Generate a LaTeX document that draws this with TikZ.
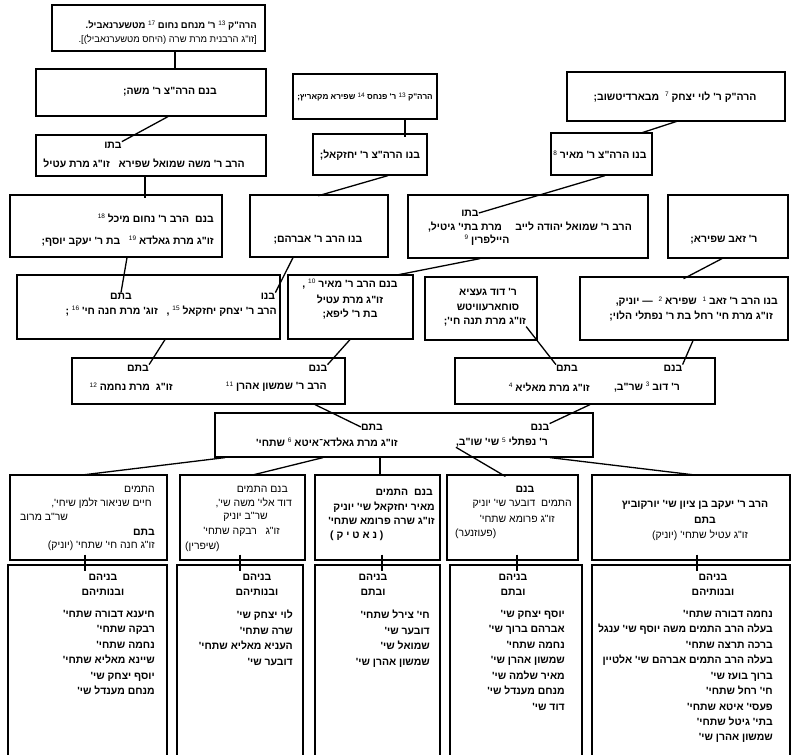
\documentclass[tikz,border=0pt]{standalone}
\usepackage{fontspec}
\TeXXeTstate=1
\newfontfamily\heb[Script=Hebrew]{Liberation Sans}
\usetikzlibrary{fit}
\newcommand\R[1]{\beginR #1\endR}
\newcommand\fn[1]{\raisebox{.6ex}{\fontsize{6.5}{7}\selectfont\mdseries #1}}
\tikzset{
  bx/.style={draw, line width=1.2bp, inner sep=0pt, fit={#1}},
  ln/.style={line width=1.3bp},
  tb/.style={inner sep=0pt, font=\heb\bfseries\fontsize{10.5}{15.5}\selectfont},
  tn/.style={inner sep=0pt, font=\heb\fontsize{10.5}{14.5}\selectfont},
  tsb/.style={inner sep=0pt, font=\heb\bfseries\fontsize{9.5}{12}\selectfont},
  tsn/.style={inner sep=0pt, font=\heb\fontsize{9.5}{12}\selectfont},
  txb/.style={inner sep=0pt, font=\heb\bfseries\fontsize{8.2}{10}\selectfont},
}
\begin{document}
\begin{tikzpicture}[x=1bp, y=-1bp]
\useasboundingbox (0,0) rectangle (795,755);
% boxes
\node[bx={(52,5) (265,51)}] (A) {};
\node[bx={(36,69) (266,116)}] (B) {};
\node[bx={(293,74) (437,119)}] (C) {};
\node[bx={(567,72) (785,121)}] (D) {};
\node[bx={(313,134) (427,175)}] (E) {};
\node[bx={(551,133) (652,175)}] (F) {};
\node[bx={(36,135) (266,176)}] (G) {};
\node[bx={(10,195) (222,257)}] (H) {};
\node[bx={(250,195) (388,257)}] (I) {};
\node[bx={(408,195) (648,258)}] (J) {};
\node[bx={(668,195) (788,258)}] (K) {};
\node[bx={(17,275) (280,339)}] (L) {};
\node[bx={(288,275) (413,339)}] (M) {};
\node[bx={(425,277) (537,340)}] (N) {};
\node[bx={(580,277) (788,340)}] (O) {};
\node[bx={(72,358) (345,404)}] (P) {};
\node[bx={(455,358) (715,404)}] (Q) {};
\node[bx={(215,413) (593,457)}] (R) {};
\node[bx={(10,475) (167,560)}] (S1) {};
\node[bx={(180,475) (305,560)}] (S2) {};
\node[bx={(315,475) (440,560)}] (S3) {};
\node[bx={(447,475) (578,560)}] (S4) {};
\node[bx={(592,475) (790,560)}] (S5) {};
\node[bx={(8,565) (167,765)}] (T1) {};
\node[bx={(177,565) (303,765)}] (T2) {};
\node[bx={(315,565) (440,765)}] (T3) {};
\node[bx={(450,565) (582,765)}] (T4) {};
\node[bx={(592,565) (790,765)}] (T5) {};
% texts
\node[tsb, anchor=east] (A1) at (257,26) {\R{הרה"ק \fn{13} ר' מנחם נחום \fn{17} מטשערנאביל.}};
\node[tsn, anchor=east] (A2) at (257,40) {\R{[זו"ג הרבנית מרת שרה (היחס מטשערנאביל)].}};
\node[tb] (B1) at (170,92) {\R{בנם הרה"צ ר' משה;}};
\node[txb] (C1) at (365,97) {\R{הרה"ק \fn{13} ר' פנחס \fn{14} שפירא מקאריץ;}};
\node[tb] (D1) at (675,97) {\R{הרה"ק ר' לוי יצחק \fn{7} \ מבארדיטשוב;}};
\node[tb] (E1) at (370,155) {\R{בנו הרה"צ ר' יחזקאל;}};
\node[tb] (F1) at (600,155) {\R{בנו הרה"צ ר' מאיר \fn{8}}};
\node[tb] (G1) at (113,145) {\R{בתו}};
\node[tb, anchor=east] (G2) at (245,163) {\R{הרב ר' משה שמואל שפירא \ \ זו"ג מרת עטיל}};
\node[tb, anchor=east] (H1) at (214,218) {\R{בנם \ הרב ר' נחום מיכל \fn{18}}};
\node[tb, anchor=east] (H2) at (214,241) {\R{זו"ג מרת גאלדא \fn{19} \ \ בת ר' יעקב יוסף;}};
\node[tb] (I1) at (318,240) {\R{בנו הרב ר' אברהם;}};
\node[tb] (J1) at (470,213) {\R{בתו}};
\node[tb, anchor=east] (J2) at (632,227) {\R{הרב ר' שמואל יהודה לייב \quad מרת בתי' גיטיל,}};
\node[tb] (J3) at (487,240) {\R{היילפרין \fn{9}}};
\node[tb] (K1) at (724,240) {\R{ר' זאב שפירא;}};
\node[tb] (L1) at (268,296) {\R{בנו}};
\node[tb] (L2) at (121,296) {\R{בתם}};
\node[tb, anchor=east] (L3) at (277,311) {\R{הרב ר' יצחק יחזקאל \fn{15} , \ \ זוג' מרת חנה חי' \fn{16} ;}};
\node[tb] (M1) at (350,284) {\R{בנם הרב ר' מאיר \fn{10} ,}};
\node[tb] (M2) at (350,299) {\R{זו"ג מרת עטיל}};
\node[tb] (M3) at (350,314) {\R{בת ר' ליפא;}};
\node[tb] (N1) at (488,292) {\R{ר' דוד געציא}};
\node[tb] (N2) at (488,307) {\R{סוחארעוויטש}};
\node[tb] (N3) at (485,322) {\R{זו"ג מרת תנה חי';}};
\node[tb, anchor=east] (O1) at (778,302) {\R{בנו הרב ר' זאב \fn{1} \ שפירא \fn{2} \ — יוניק,}};
\node[tb, anchor=east] (O2) at (773,316) {\R{זו"ג מרת חי' רחל בת ר' נפתלי הלוי;}};
\node[tb] (P1) at (318,368) {\R{בנם}};
\node[tb] (P2) at (138,368) {\R{בתם}};
\node[tb, anchor=east] (P3) at (327,387) {\R{הרב ר' שמשון אהרן \fn{11}}};
\node[tb, anchor=east] (P4) at (173,387) {\R{זו"ג \ מרת נחמה \fn{12}}};
\node[tb] (Q1) at (673,368) {\R{בנם}};
\node[tb] (Q2) at (567,368) {\R{בתם}};
\node[tb, anchor=east] (Q3) at (680,387) {\R{ר' דוב \fn{3} שר"ב,}};
\node[tb, anchor=east] (Q4) at (590,387) {\R{זו"ג מרת מאליא \fn{4}}};
\node[tb] (R1) at (540,427) {\R{בנם}};
\node[tb] (R2) at (372,427) {\R{בתם}};
\node[tb, anchor=east] (R3) at (548,442) {\R{ר' נפתלי \fn{5} שי' שו"ב,}};
\node[tb, anchor=east] (R4) at (398,442) {\R{זו"ג מרת גאלדא־איטא \fn{6} שתחי'}};
% row S
\node[tn, anchor=east] (S1a) at (155,489) {\R{התמים}};
\node[tn, anchor=east] (S1b) at (152,503) {\R{חיים שניאור זלמן שיחי',}};
\node[tn, anchor=west] (S1c) at (20,517) {\R{שר"ב מרוב}};
\node[tb, anchor=east] (S1d) at (155,532) {\R{בתם}};
\node[tn, anchor=east] (S1e) at (155,546) {\R{זו"ג חנה חי' שתחי' (יוניק)}};
\node[tn, anchor=east] (S2a) at (288,489) {\R{בנם התמים}};
\node[tn, anchor=east] (S2b) at (292,503) {\R{דוד אלי' משה שי',}};
\node[tn, anchor=east] (S2c) at (268,517) {\R{שר"ב יוניק}};
\node[tn, anchor=east] (S2d) at (280,532) {\R{זו"ג \ \ רבקה שתחי'}};
\node[tn, anchor=west] (S2e) at (185,547) {\R{(שיפרין)}};
\node[tb, anchor=east] (S3a) at (433,492) {\R{בנם \ התמים}};
\node[tb, anchor=east] (S3b) at (435,507) {\R{מאיר יחזקאל שי' יוניק}};
\node[tb, anchor=east] (S3c) at (435,521) {\R{זו"ג שרה פרומא שתחי'}};
\node[tb, anchor=west] (S3d) at (330,536) {\R{( נ א ט י ק )}};
\node[tb] (S4a) at (525,489) {\R{בנם}};
\node[tn, anchor=east] (S4b) at (572,504) {\R{התמים \ דובער שי' יוניק}};
\node[tn, anchor=east] (S4c) at (555,519) {\R{זו"ג פרומא שתחי'}};
\node[tn, anchor=west] (S4d) at (455,534) {\R{(פעוזנער)}};
\node[tb] (S5a) at (695,505) {\R{הרב ר' יעקב בן ציון שי' יורקוביץ}};
\node[tb] (S5b) at (705,520) {\R{בתם}};
\node[tn] (S5c) at (700,535) {\R{זו"ג עטיל שתחי' (יוניק)}};
% row T
\node[tb, align=center, anchor=north] (T1h) at (103,574) {\R{בניהם}\\\R{ובנותיהם}};
\node[tb, align=right, anchor=north east] (T1n) at (155,610) {\R{חיענא דבורה שתחי'}\\\R{רבקה שתחי'}\\\R{נחמה שתחי'}\\\R{שיינא מאליא שתחי'}\\\R{יוסף יצחק שי'}\\\R{מנחם מענדל שי'}};
\node[tb, align=center, anchor=north] (T2h) at (257,574) {\R{בניהם}\\\R{ובנותיהם}};
\node[tb, align=right, anchor=north east] (T2n) at (293,610) {\R{לוי יצחק שי'}\\\R{שרה שתחי'}\\\R{העניא מאליא שתחי'}\\\R{דובער שי'}};
\node[tb, align=center, anchor=north] (T3h) at (373,574) {\R{בניהם}\\\R{ובתם}};
\node[tb, align=right, anchor=north east] (T3n) at (430,610) {\R{חי' צירל שתחי'}\\\R{דובער שי'}\\\R{שמואל שי'}\\\R{שמשון אהרן שי'}};
\node[tb, align=center, anchor=north] (T4h) at (513,574) {\R{בניהם}\\\R{ובתם}};
\node[tb, align=right, anchor=north east] (T4n) at (565,610) {\R{יוסף יצחק שי'}\\\R{אברהם ברוך שי'}\\\R{נחמה שתחי'}\\\R{שמשון אהרן שי'}\\\R{מאיר שלמה שי'}\\\R{מנחם מענדל שי'}\\\R{דוד שי'}};
\node[tb, align=center, anchor=north] (T5h) at (713,574) {\R{בניהם}\\\R{ובנותיהם}};
\node[tb, align=right, anchor=north east] (T5n) at (773,610) {\R{נחמה דבורה שתחי'}\\\R{בעלה הרב התמים משה יוסף שי' ענגל}\\\R{ברכה תרצה שתחי'}\\\R{בעלה הרב התמים אברהם שי' אלטיין}\\\R{ברוך בועז שי'}\\\R{חי' רחל שתחי'}\\\R{פעסי' איטא שתחי'}\\\R{בתי' גיטל שתחי'}\\\R{שמשון אהרן שי'}};
% connectors
\draw[ln] (A.south -| 175,0) -- (B.north -| 175,0);
\draw[ln] (B.south -| 168,0) -- (G1.north east);
\draw[ln, shorten >=-4bp] (C.south -| 405,0) -- (E.north -| 405,0);
\draw[ln, shorten <=-2bp, shorten >=-3bp] (D.south -| 676,0) -- (F.north -| 643,0);
\draw[ln, shorten >=-4bp] (G.south -| 145,0) -- (H.north -| 145,0);
\draw[ln, shorten >=-5bp] (E.south -| 388,0) -- (I.north -| 323,0);
\draw[ln] (F.south -| 605,0) -- (J1.east);
\draw[ln] (H.south -| 127,0) -- (L2.north);
\draw[ln] (I.south -| 293,0) -- (L1.north east);
\draw[ln, shorten >=-2bp] (J.south -| 480,0) -- (M.north -| 400,0);
\draw[ln, shorten >=-5bp] (K.south -| 722,0) -- (O.north -| 688,0);
\draw[ln] (L.south -| 165,0) -- (P2.north east);
\draw[ln] (M.south -| 350,0) -- (P1.north east);
\draw[ln] (N3.south east) -- (Q2.north west);
\draw[ln] (O.south -| 693,0) -- (Q1.north east);
\draw[ln] (P.south -| 315,0) -- (R2.west);
\draw[ln] (Q.south -| 590,0) -- (R1.north east);
\draw[ln, shorten >=-3bp] (R.south -| 225,0) -- (S1.north -| 87,0);
\draw[ln, shorten >=-3bp] (R.south -| 323,0) -- (S2.north -| 255,0);
\draw[ln] (R.south -| 380,0) -- (S3.north -| 380,0);
\draw[ln, shorten >=-4bp] (R3.south west) -- (S4.north -| 502,0);
\draw[ln, shorten >=-3bp] (R.south -| 550,0) -- (S5.north -| 690,0);
\draw[ln, shorten <=-6bp, shorten >=-7bp] (S1.south -| 85,0) -- (T1.north -| 85,0);
\draw[ln, shorten <=-6bp, shorten >=-7bp] (S2.south -| 240,0) -- (T2.north -| 240,0);
\draw[ln, shorten <=-6bp, shorten >=-7bp] (S3.south -| 382,0) -- (T3.north -| 382,0);
\draw[ln, shorten <=-6bp, shorten >=-7bp] (S4.south -| 517,0) -- (T4.north -| 517,0);
\draw[ln, shorten <=-6bp, shorten >=-7bp] (S5.south -| 697,0) -- (T5.north -| 697,0);
\end{tikzpicture}
\end{document}
